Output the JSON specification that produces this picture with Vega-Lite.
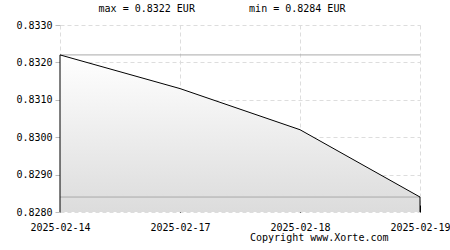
{
  "$schema": "https://vega.github.io/schema/vega-lite/v6.json",
  "autosize": "none",
  "width": 360,
  "height": 187,
  "padding": {"left": 60, "top": 25, "right": 30, "bottom": 38},
  "background": "white",
  "config": {
    "view": {"stroke": null},
    "font": "DejaVu Sans Mono",
    "axis": {"labelFont": "DejaVu Sans Mono", "labelFontSize": 10, "labelColor": "#000", "gridColor": "#dddddd", "gridDash": [4, 3], "gridWidth": 1, "domain": false}
  },
  "title": {"text": "max = 0.8322 EUR\u00a0\u00a0\u00a0\u00a0\u00a0\u00a0\u00a0\u00a0\u00a0min = 0.8284 EUR", "font": "DejaVu Sans Mono", "fontSize": 10, "fontWeight": "normal", "color": "#000", "anchor": "middle", "offset": 6, "dx": -18},
  "data": {"values": [
    {"date": "2025-02-14", "rate": 0.8322},
    {"date": "2025-02-17", "rate": 0.8313},
    {"date": "2025-02-18", "rate": 0.8302},
    {"date": "2025-02-19", "rate": 0.8284}
  ]},
  "encoding": {
    "x": {"field": "date", "type": "ordinal", "scale": {"type": "point", "padding": 0},
      "axis": {"labelAngle": 0, "grid": true, "tickColor": "#000", "tickSize": -7, "labelPadding": 17, "labelOverlap": false, "title": "Copyright www.Xorte.com", "titleFont": "DejaVu Sans Mono", "titleFontSize": 10, "titleFontWeight": "normal", "titleColor": "#000", "titleAnchor": "end", "titleAlign": "right", "titleX": 328, "titleY": 20, "titleBaseline": "top"}},
    "y": {"field": "rate", "type": "quantitative", "scale": {"domain": [0.828, 0.833], "zero": false, "nice": false},
      "axis": {"values": [0.828, 0.829, 0.83, 0.831, 0.832, 0.833], "labelExpr": "format(datum.value, '.4f')", "grid": true, "tickColor": "#bbbbbb", "tickSize": 5, "labelPadding": 3, "labelOverlap": false, "labelSeparation": 0, "labelBound": false, "labelFlush": false, "title": null}}
  },
  "layer": [
    {
      "mark": {"type": "area", "fill": {"gradient": "linear", "x1": 0, "y1": 0, "x2": 0, "y2": 1, "stops": [{"offset": 0, "color": "#ffffff"}, {"offset": 1, "color": "#dcdcdc"}]}},
      "encoding": {"y2": {"datum": 0.828}}
    },
    {
      "data": {"values": [{"rate": 0.8322}, {"rate": 0.8284}]},
      "mark": {"type": "rule", "color": "#aaaaaa", "strokeWidth": 1},
      "encoding": {"x": {"datum": "2025-02-14"}, "x2": {"datum": "2025-02-19"}}
    },
    {
      "mark": {"type": "line", "color": "#000000", "strokeWidth": 1}
    },
    {
      "transform": [{"filter": "datum.date == '2025-02-14' || datum.date == '2025-02-19'"}],
      "mark": {"type": "rule", "color": "#000000", "strokeWidth": 1},
      "encoding": {"y2": {"datum": 0.828}}
    }
  ]
}
